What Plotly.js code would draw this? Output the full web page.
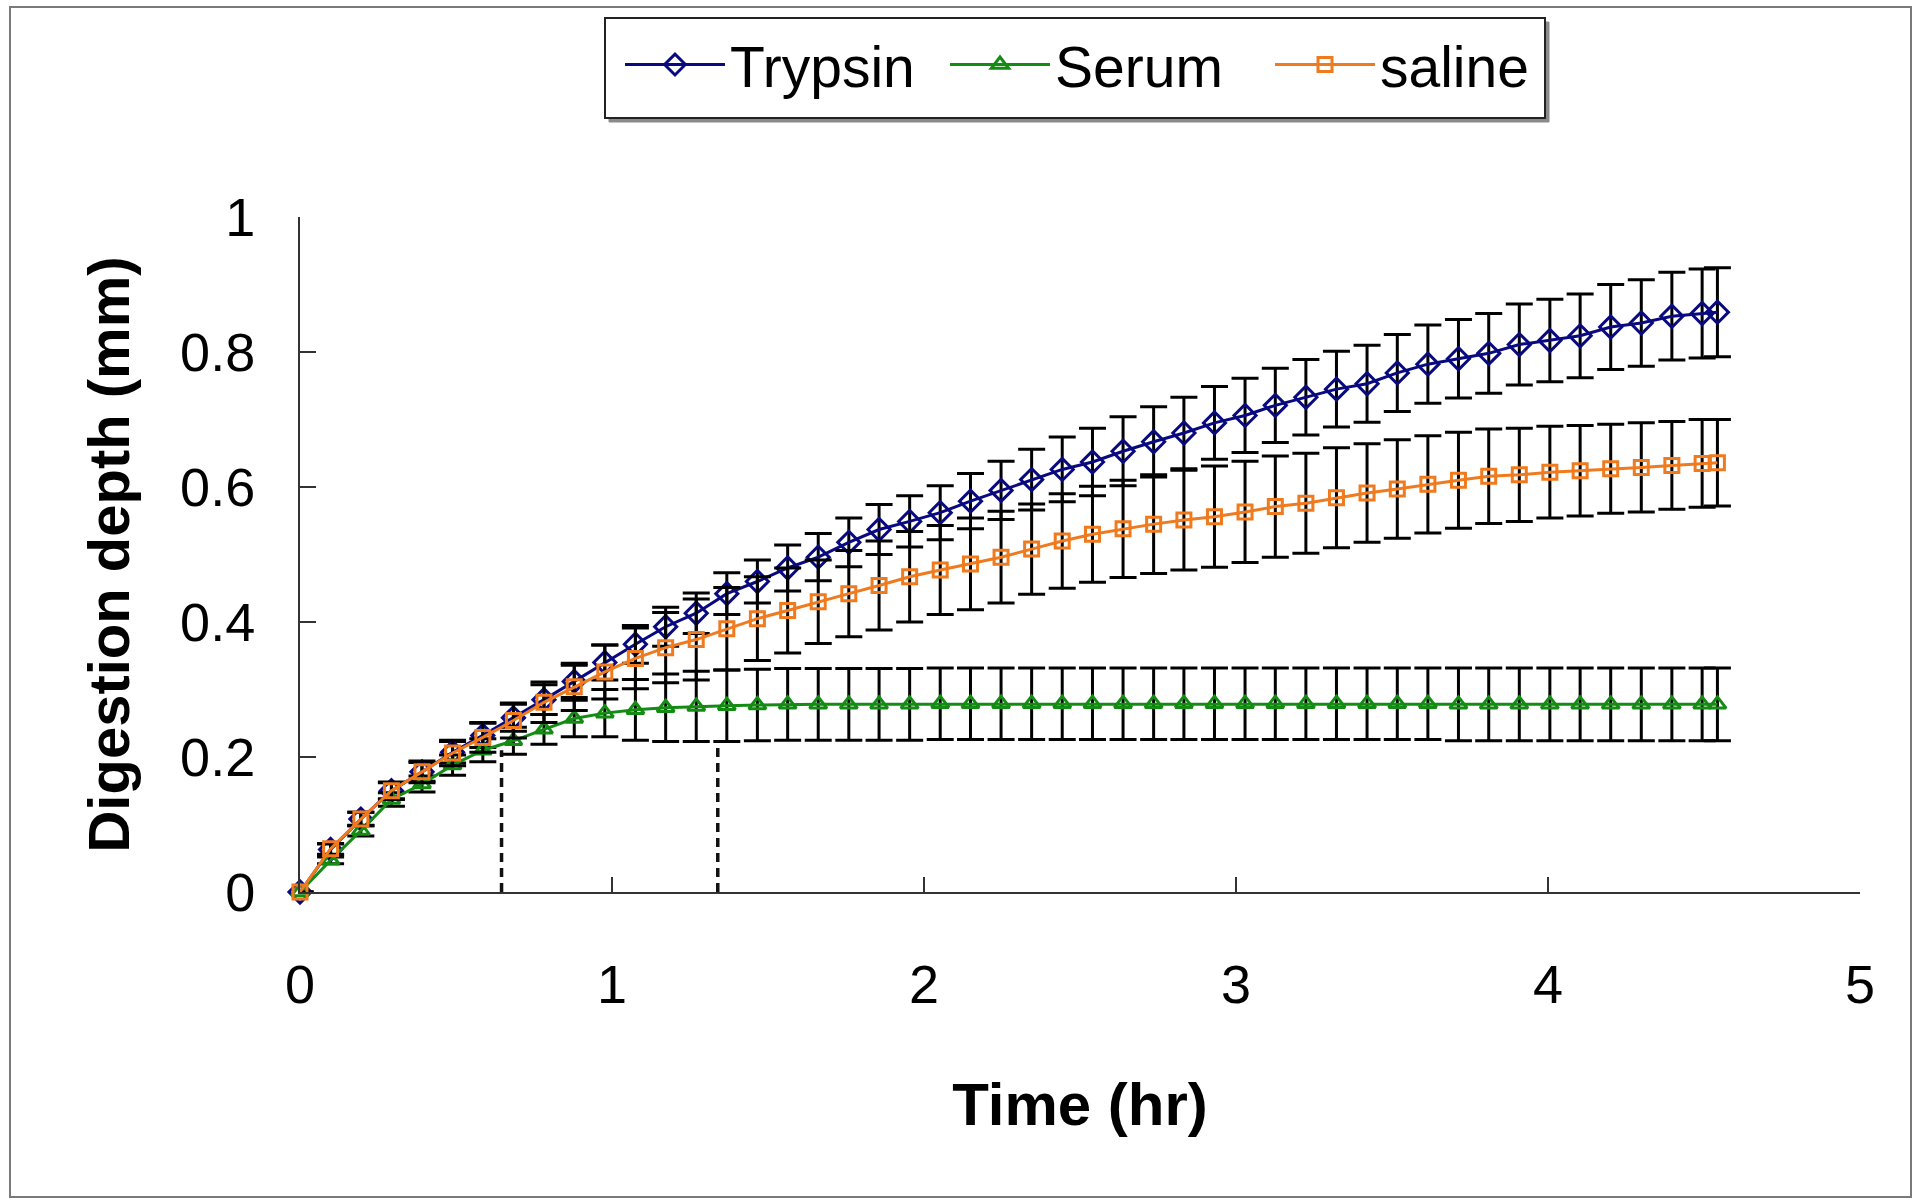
<!DOCTYPE html>
<html>
<head>
<meta charset="utf-8">
<script src="https://cdn.plot.ly/plotly-3.0.1.min.js"></script>
<style>
  html, body { margin: 0; padding: 0; background: #fff; }
  #chart { width: 1925px; height: 1200px; }
</style>
</head>
<body>
<div id="chart"></div>
<script>
// ---- data ----
const time = [
  0, 0.098, 0.195, 0.293, 0.391, 0.489, 0.586, 0.684, 0.782, 0.879,
  0.977, 1.075, 1.172, 1.270, 1.368, 1.466, 1.563, 1.661, 1.759, 1.856,
  1.954, 2.052, 2.149, 2.247, 2.345, 2.443, 2.540, 2.638, 2.736, 2.833,
  2.931, 3.029, 3.126, 3.224, 3.322, 3.420, 3.517, 3.615, 3.713, 3.810,
  3.908, 4.006, 4.103, 4.201, 4.299, 4.397, 4.494, 4.543
];
const trypsin = [
  0, 0.063, 0.108, 0.150, 0.178, 0.207, 0.232, 0.258, 0.285, 0.312,
  0.340, 0.367, 0.393, 0.413, 0.442, 0.460, 0.480, 0.496, 0.518, 0.537,
  0.549, 0.562, 0.579, 0.595, 0.611, 0.626, 0.637, 0.653, 0.667, 0.680,
  0.695, 0.706, 0.721, 0.733, 0.745, 0.753, 0.769, 0.782, 0.790, 0.798,
  0.811, 0.817, 0.824, 0.837, 0.843, 0.853, 0.857, 0.859
];
const trypsinErr = [
  0, 0.008, 0.010, 0.012, 0.014, 0.016, 0.018, 0.020, 0.022, 0.024,
  0.026, 0.028, 0.029, 0.030, 0.031, 0.032, 0.034, 0.035, 0.036, 0.037,
  0.038, 0.040, 0.041, 0.043, 0.045, 0.048, 0.050, 0.051, 0.052, 0.053,
  0.054, 0.055, 0.055, 0.056, 0.056, 0.057, 0.057, 0.058, 0.058, 0.059,
  0.060, 0.061, 0.062, 0.063, 0.064, 0.065, 0.066, 0.066
];
const serum = [
  0, 0.047, 0.091, 0.137, 0.160, 0.188, 0.210, 0.224, 0.241, 0.257,
  0.265, 0.270, 0.273, 0.275, 0.276, 0.277, 0.278, 0.278, 0.278, 0.278,
  0.278, 0.279, 0.279, 0.279, 0.279, 0.279, 0.279, 0.279, 0.279, 0.279,
  0.279, 0.279, 0.279, 0.279, 0.279, 0.279, 0.279, 0.279, 0.278, 0.278,
  0.278, 0.278, 0.278, 0.278, 0.278, 0.278, 0.278, 0.278
];
const serumErr = [
  0, 0.005, 0.008, 0.010, 0.012, 0.015, 0.017, 0.020, 0.022, 0.027,
  0.035, 0.045, 0.050, 0.052, 0.053, 0.053, 0.053, 0.053, 0.053, 0.053,
  0.053, 0.053, 0.053, 0.053, 0.053, 0.053, 0.053, 0.053, 0.053, 0.053,
  0.053, 0.053, 0.053, 0.053, 0.053, 0.053, 0.053, 0.053, 0.054, 0.054,
  0.054, 0.054, 0.054, 0.054, 0.054, 0.054, 0.054, 0.054
];
const saline = [
  0, 0.064, 0.108, 0.150, 0.178, 0.206, 0.229, 0.254, 0.281, 0.304,
  0.326, 0.346, 0.362, 0.374, 0.390, 0.405, 0.417, 0.430, 0.442, 0.454,
  0.467, 0.477, 0.486, 0.496, 0.508, 0.520, 0.530, 0.538, 0.545, 0.551,
  0.556, 0.563, 0.571, 0.576, 0.584, 0.591, 0.597, 0.604, 0.610, 0.616,
  0.618, 0.622, 0.624, 0.627, 0.629, 0.632, 0.635, 0.636
];
const salineErr = [
  0, 0.008, 0.010, 0.013, 0.016, 0.019, 0.022, 0.026, 0.030, 0.035,
  0.040, 0.045, 0.052, 0.060, 0.061, 0.062, 0.063, 0.062, 0.064, 0.066,
  0.067, 0.066, 0.068, 0.068, 0.067, 0.070, 0.071, 0.072, 0.073, 0.074,
  0.075, 0.075, 0.075, 0.074, 0.074, 0.073, 0.073, 0.072, 0.071, 0.070,
  0.069, 0.068, 0.067, 0.066, 0.066, 0.065, 0.065, 0.064
];
const seriesNames = ['Trypsin', 'Serum', 'saline'];
const xTicks = [0, 1, 2, 3, 4, 5];
const yTicks = [0, 0.2, 0.4, 0.6, 0.8, 1];
const yTickText = ['0', '0.2', '0.4', '0.6', '0.8', '1'];
// dashed reference lines (time, top depth)
const dashTimes = [0.646, 1.339];
const dashTops = [0.21, 0.225];

// ---- layout geometry ----
const W = 1925, H = 1200;
const M = { l: 300, r: 65, t: 217, b: 308 };
const PW = W - M.l - M.r, PH = H - M.t - M.b;
const px = v => (v - M.l) / PW;           // pixel x -> paper
const py = v => (H - M.b - v) / PH;       // pixel y -> paper
const FONT = 'Liberation Sans, Arial, Helvetica, sans-serif';

function errBar(arr) {
  return { type: 'data', array: arr, visible: true, color: '#000', thickness: 3, width: 13.5 };
}

const traces = [
  {
    x: time, y: trypsin, name: seriesNames[0], type: 'scatter', mode: 'lines+markers',
    line: { color: '#0a0a80', width: 3 },
    marker: { symbol: 'diamond-open', size: 17, color: '#0a0a80', line: { width: 3, color: '#0a0a80' } },
    error_y: errBar(trypsinErr), cliponaxis: false
  },
  {
    x: time, y: serum, name: seriesNames[1], type: 'scatter', mode: 'lines+markers',
    line: { color: '#148c14', width: 3 },
    marker: { symbol: 'triangle-up-open', size: 15, color: '#148c14', line: { width: 3, color: '#148c14' } },
    error_y: errBar(serumErr), cliponaxis: false
  },
  {
    x: time, y: saline, name: seriesNames[2], type: 'scatter', mode: 'lines+markers',
    line: { color: '#f07a1e', width: 3 },
    marker: { symbol: 'square-open', size: 14, color: '#f07a1e', line: { width: 3, color: '#f07a1e' } },
    error_y: errBar(salineErr), cliponaxis: false
  }
];

const shapes = [
  // outer chart border
  { type: 'rect', xref: 'paper', yref: 'paper', x0: px(10), x1: px(1911), y0: py(1197), y1: py(7),
    line: { color: '#7a7a7a', width: 2 }, fillcolor: 'rgba(0,0,0,0)', layer: 'below' },
  // legend shadow + box
  { type: 'rect', xref: 'paper', yref: 'paper', x0: px(609), x1: px(1549), y0: py(122), y1: py(22),
    line: { color: '#8a8a8a', width: 1 }, fillcolor: '#8a8a8a' },
  { type: 'rect', xref: 'paper', yref: 'paper', x0: px(605), x1: px(1545), y0: py(118), y1: py(18),
    line: { color: '#222', width: 2 }, fillcolor: '#ffffff' }
];
dashTimes.forEach((t, k) => {
  shapes.push({ type: 'line', xref: 'x', yref: 'y', x0: t, x1: t, y0: 0, y1: dashTops[k],
    line: { color: '#111', width: 3.5, dash: '9px,6px' } });
});

const layout = {
  width: W, height: H,
  margin: M,
  paper_bgcolor: '#ffffff', plot_bgcolor: '#ffffff',
  font: { family: FONT, color: '#000', size: 54 },
  showlegend: true,
  legend: {
    orientation: 'h', x: px(620), xanchor: 'left', y: py(21), yanchor: 'top',
    bgcolor: 'rgba(0,0,0,0)', borderwidth: 0, font: { family: FONT, size: 57, color: '#000' },
    itemwidth: 100, entrywidth: 210, entrywidthmode: 'pixels',
    itemclick: false, itemdoubleclick: false
  },
  xaxis: {
    range: [0, 5], tickvals: xTicks, ticktext: xTicks.map(String),
    ticks: 'inside', ticklen: 15, tickwidth: 2, tickcolor: '#333',
    showline: true, linewidth: 2, linecolor: '#333', showgrid: false, zeroline: false,
    tickfont: { family: FONT, size: 54, color: '#000' }, ticklabelstandoff: 44,
    title: { text: '<b>Time (hr)</b>', font: { family: FONT, size: 60, color: '#000' }, standoff: 70 },
    automargin: false, fixedrange: true
  },
  yaxis: {
    range: [0, 1], tickvals: yTicks, ticktext: yTickText,
    ticks: 'inside', ticklen: 16, tickwidth: 2, tickcolor: '#333',
    showline: true, linewidth: 2, linecolor: '#333', showgrid: false, zeroline: false,
    tickfont: { family: FONT, size: 54, color: '#000' }, ticklabelstandoff: 32,
    title: { text: '<b>Digestion depth (mm)</b>', font: { family: FONT, size: 58, color: '#000' }, standoff: 32 },
    automargin: false, fixedrange: true
  },
  shapes: shapes
};

Plotly.newPlot('chart', traces, layout, { displayModeBar: false, staticPlot: true });
</script>
</body>
</html>
